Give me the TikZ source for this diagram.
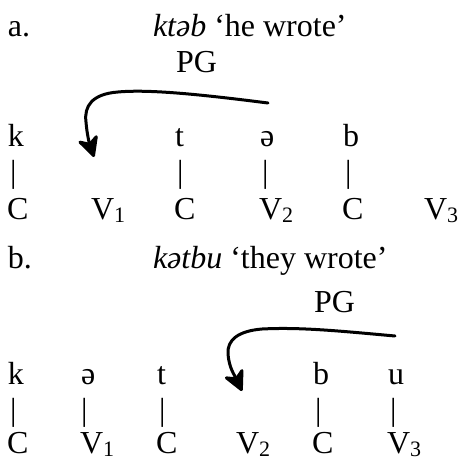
\documentclass[tikz,border=0pt]{standalone}
\usepackage{fontspec}
\setmainfont{Liberation Serif}
\usetikzlibrary{arrows.meta}
\newcommand{\vsub}[1]{\raisebox{-3pt}{\fontsize{22}{22}\selectfont #1}}
\tikzset{
  seg/.style={anchor=base west, inner sep=0pt, outer sep=0pt},
  pgarrow/.style={line width=3pt, -{Stealth[length=24pt, width=24pt, inset=7pt, round]}}
}
\begin{document}
\begin{tikzpicture}[x=1pt, y=-1pt, font=\fontsize{32}{38}\selectfont, line join=round, line cap=round]
  \useasboundingbox (0,0) rectangle (461,461);
  %%%%%%%%%%%%%%%%%%%%%%%%%%%%%%%%%
  % a. ktəb
  \node[seg] (labA) at (8,36) {a.};
  \node[seg] (wordA) at (153,36) {\textit{ktəb} ‘he wrote’};
  \node[seg] (pgA) at (176,72) {PG};
  \node[seg] (aK) at (8,146) {k};
  \node[seg] (aT) at (175,146) {t};
  \node[seg] (aE) at (260,146) {ə};
  \node[seg] (aB) at (343,146) {b};
  \node[seg] (aBarK) at (10,182) {|};
  \node[seg] (aBarT) at (177,182) {|};
  \node[seg] (aBarE) at (262,182) {|};
  \node[seg] (aBarB) at (345,182) {|};
  \node[seg] (aC1) at (7,219) {C};
  \node[seg] (aV1) at (91,219) {V\vsub{1}};
  \node[seg] (aC2) at (174,219) {C};
  \node[seg] (aV2) at (259,219) {V\vsub{2}};
  \node[seg] (aC3) at (342,219) {C};
  \node[seg] (aV3) at (424,219) {V\vsub{3}};
  \coordinate (aFrom) at (268,103);
  \coordinate (aTop) at (118,92);
  \coordinate (aBend) at (86,122);
  \coordinate (aTo) at (94,157);
  \draw[pgarrow] (aFrom) .. controls (205,95) and (150,89) .. (aTop)
    .. controls (92,94) and (84,106) .. (aBend)
    .. controls (87,134) and (89,142) .. (aTo);
  %%%%%%%%%%%%%%%%%%%%%%%%%%%%%%%%%
  % b. kətbu
  \node[seg] (labB) at (8,268) {b.};
  \node[seg] (wordB) at (153,268) {\textit{kətbu} ‘they wrote’};
  \node[seg] (pgB) at (314,312) {PG};
  \node[seg] (bK) at (8,384) {k};
  \node[seg] (bE) at (81,384) {ə};
  \node[seg] (bT) at (157,384) {t};
  \node[seg] (bB) at (313,384) {b};
  \node[seg] (bU) at (388,384) {u};
  \node[seg] (bBarK) at (10,420) {|};
  \node[seg] (bBarE) at (81,420) {|};
  \node[seg] (bBarT) at (159,420) {|};
  \node[seg] (bBarB) at (315,420) {|};
  \node[seg] (bBarU) at (390,420) {|};
  \node[seg] (bC1) at (7,453) {C};
  \node[seg] (bV1) at (80,453) {V\vsub{1}};
  \node[seg] (bC2) at (156,453) {C};
  \node[seg] (bV2) at (236,453) {V\vsub{2}};
  \node[seg] (bC3) at (312,453) {C};
  \node[seg] (bV3) at (387,453) {V\vsub{3}};
  \coordinate (bFrom) at (395,336);
  \coordinate (bTop) at (262,329);
  \coordinate (bBend) at (228,354);
  \coordinate (bTo) at (242,391);
  \draw[pgarrow] (bFrom) .. controls (340,331) and (300,327) .. (bTop)
    .. controls (238,331) and (227,340) .. (bBend)
    .. controls (229,368) and (235,376) .. (bTo);
  %%%%%%%%%%%%%%%%%%%%%%%%%%%%%%%%%
\end{tikzpicture}
\end{document}
